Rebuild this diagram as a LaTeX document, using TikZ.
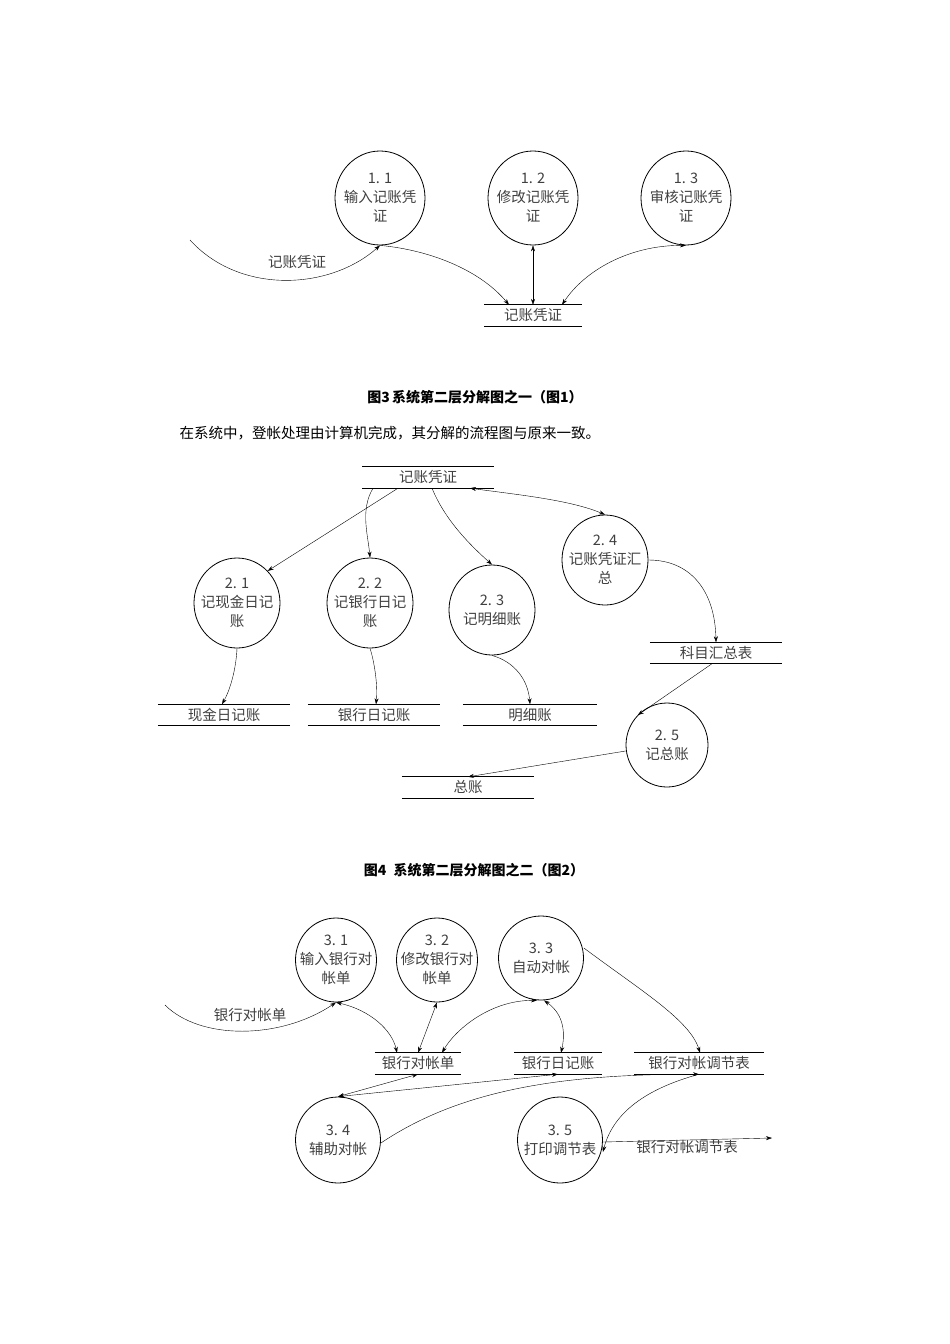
\documentclass[tikz,border=0pt]{standalone}
\usepackage{fontspec}
\newfontfamily\cjk{Noto Sans CJK SC}
\usetikzlibrary{shapes.geometric,arrows.meta}
\newcommand{\mystore}[5]{%
  \node[storebox,minimum width=#4] (#1) at (#2,#3) {#5};
  \draw[thick] (#1.north west)--(#1.north east) (#1.south west)--(#1.south east);}
\begin{document}
\begin{tikzpicture}[x=1pt,y=-1pt,
  proc/.style={ellipse,draw,thick,minimum width=86,minimum height=90,inner sep=0,
     label={[align=center,text=black!75,font=\cjk\fontsize{14.5}{19}\selectfont]center:#1}},
  storebox/.style={minimum height=21,inner sep=0,text=black!75,font=\cjk\fontsize{14.5}{15}\selectfont},
  lbl/.style={text=black!75,font=\cjk\fontsize{14.5}{15}\selectfont},
  arr/.style={-{Stealth[length=6pt,width=4pt]},thin},
  darr/.style={{Stealth[length=6pt,width=4pt]}-{Stealth[length=6pt,width=4pt]},thin}]
\useasboundingbox (0,0) rectangle (950,1344);
% ---------- diagram 1
\node[proc={1. 1\\输入记账凭\\证},minimum width=90,minimum height=94] (p11) at (380,198) {};
\node[proc={1. 2\\修改记账凭\\证},minimum width=90,minimum height=94] (p12) at (533,198) {};
\node[proc={1. 3\\审核记账凭\\证},minimum width=90,minimum height=94] (p13) at (686,198) {};
\mystore{s1}{533}{315.5}{97}{记账凭证}
\coordinate (in1) at (190,240);
\draw[arr] (in1) .. controls (240,295) and (330,290) .. (p11.south);
\node[lbl] (l1) at (297,262) {记账凭证};
\draw[arr] (p11.south) .. controls (430,250) and (480,270) .. ([xshift=-24]s1.north);
\draw[darr] (p12.south) -- (s1.north);
\draw[darr] (p13.south) .. controls (630,245) and (585,270) .. ([xshift=29]s1.north);
\node[font=\cjk\bfseries\fontsize{14}{16}\selectfont] (c1) at (475,397) {图3\,系统第二层分解图之一（图1）};
\node[anchor=west,font=\cjk\fontsize{14.5}{16}\selectfont] (para) at (176,433) {在系统中，登帐处理由计算机完成，其分解的流程图与原来一致。};
% ---------- diagram 2
\mystore{s2}{428}{477.5}{131}{记账凭证}
\node[proc={2. 1\\记现金日记\\账}] (p21) at (237,603) {};
\node[proc={2. 2\\记银行日记\\账}] (p22) at (370,603) {};
\node[proc={2. 3\\记明细账}] (p23) at (492,610) {};
\node[proc={2. 4\\记账凭证汇\\总}] (p24) at (605,560) {};
\node[proc={2. 5\\记总账},minimum width=82,minimum height=84] (p25) at (667,745) {};
\mystore{s21}{224}{715}{132}{现金日记账}
\mystore{s22}{374}{715}{132}{银行日记账}
\mystore{s23}{530}{715}{134}{明细账}
\mystore{s24}{716}{653}{132}{科目汇总表}
\mystore{s25}{468}{787.5}{132}{总账}
\draw[arr] ([xshift=-30]s2.south) -- (p21.north east);
\draw[arr] ([xshift=-55]s2.south) .. controls (360,510) and (368,535) .. (p22.north);
\draw[arr] ([xshift=4]s2.south) .. controls (445,520) and (470,545) .. (p23.north);
\draw[darr] ([xshift=42]s2.south) .. controls (520,495) and (570,500) .. (p24.north);
\draw[arr] (p21.south) .. controls (236,670) and (230,690) .. ([xshift=-2]s21.north);
\draw[arr] (p22.south) .. controls (374,660) and (378,685) .. ([xshift=2]s22.north);
\draw[arr] (p23.south) .. controls (515,662) and (528,680) .. (s23.north);
\draw[arr] (p24.east) .. controls (690,560) and (715,590) .. (s24.north);
\draw[arr] ([xshift=-4]s24.south) -- (p25.north west);
\draw[arr] ([yshift=-6]p25.west) -- (s25.north);
\node[font=\cjk\bfseries\fontsize{14}{16}\selectfont] (c2) at (474,870) {图4\enspace 系统第二层分解图之二（图2）};
% ---------- diagram 3
\node[proc={3. 1\\输入银行对\\帐单},minimum width=81,minimum height=84] (p31) at (336,960) {};
\node[proc={3. 2\\修改银行对\\帐单},minimum width=81,minimum height=84] (p32) at (437,960) {};
\node[proc={3. 3\\自动对帐},minimum width=85,minimum height=84] (p33) at (541,958) {};
\node[proc={3. 4\\辅助对帐},minimum width=85,minimum height=86] (p34) at (338,1140) {};
\node[proc={3. 5\\打印调节表},minimum width=85,minimum height=86] (p35) at (560,1140) {};
\mystore{s31}{418}{1063.5}{86}{银行对帐单}
\mystore{s32}{558}{1063.5}{87}{银行日记账}
\mystore{s33}{699}{1063.5}{129}{银行对帐调节表}
\coordinate (in3) at (165,1005);
\draw[arr] (in3) .. controls (200,1040) and (280,1040) .. (p31.south);
\node[lbl] (l3) at (250,1015) {银行对帐单};
\draw[darr] (p31.south) .. controls (370,1010) and (392,1030) .. ([xshift=-21]s31.north);
\draw[darr] (p32.south) -- ([xshift=0]s31.north);
\draw[darr] ([xshift=-4]p33.south) .. controls (490,1000) and (455,1030) .. ([xshift=24]s31.north);
\draw[darr] ([xshift=3]p33.south) .. controls (565,1015) and (565,1035) .. ([xshift=3]s32.north);
\draw[arr] ([yshift=10]p33.east) .. controls (640,990) and (690,1020) .. ([xshift=1]s33.north);
\draw[darr] (p34.north) -- (s31.south);
\draw[darr] (p34.north) -- (s32.south);
\draw[arr] ([yshift=-3]p34.east) .. controls (460,1090) and (560,1074) .. (s33.south);
\draw[arr] (s33.south) .. controls (660,1085) and (615,1105) .. ([yshift=-12]p35.east);
\coordinate (out3) at (772,1138);
\draw[arr] ([yshift=-2]p35.east) -- (out3);
\node[lbl] (l4) at (687,1147) {银行对帐调节表};
\end{tikzpicture}
\end{document}
